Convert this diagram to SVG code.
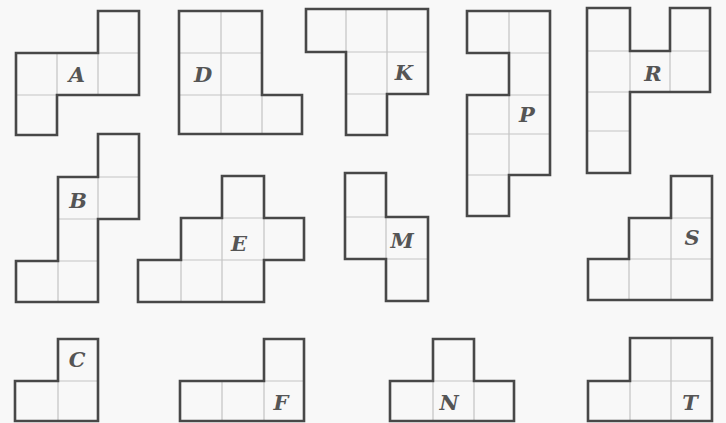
<svg xmlns="http://www.w3.org/2000/svg" width="726" height="423" viewBox="0 0 726 423">
<style>
.o{fill:none;stroke:#484848;stroke-width:2.6;stroke-linejoin:miter}
.i{fill:none;stroke:#c4c4c4;stroke-width:1.2}
.t{font-family:"DejaVu Serif","Liberation Serif",serif;font-style:italic;font-weight:bold;font-size:21px;fill:#555555;text-anchor:middle}
</style>
<rect width="726" height="423" fill="#f8f8f8"/>
<g id="A">
<path class="i" d="M98,53H139M57,53V95M98,53V95M16,95H57"/>
<path class="o" d="M98,11H139V95H57V135H16V53H98Z"/>
<text class="t" x="77" y="82">A</text>
</g>
<g id="D">
<path class="i" d="M221,11V134M262,95V134M179,53H262M179,95H262"/>
<path class="o" d="M179,11H262V95H302V134H179Z"/>
<text class="t" x="203" y="82">D</text>
</g>
<g id="K">
<path class="i" d="M346,9V52M387,9V94M346,52H428M346,94H387"/>
<path class="o" d="M306,9H428V94H387V135H346V52H306Z"/>
<text class="t" x="404" y="80">K</text>
</g>
<g id="P">
<path class="i" d="M509,11V53M509,53H550M509,95H550M509,95V175M467,134H550M467,175H509"/>
<path class="o" d="M467,11H550V175H509V216H467V95H509V53H467Z"/>
<text class="t" x="527" y="122">P</text>
</g>
<g id="R">
<path class="i" d="M587,51H710M630,51V92M670,51V92M587,92H630M587,131H630"/>
<path class="o" d="M587,8H630V51H670V8H710V92H630V173H587Z"/>
<text class="t" x="653" y="81">R</text>
</g>
<g id="B">
<path class="i" d="M98,177H139M98,177V219M58,219H98M58,261H98M58,261V302"/>
<path class="o" d="M98,134H139V219H98V302H16V261H58V177H98Z"/>
<text class="t" x="78" y="208">B</text>
</g>
<g id="E">
<path class="i" d="M222,218H264M222,218V302M264,218V260M181,260H264M181,260V302"/>
<path class="o" d="M222,176H264V218H304V260H264V302H138V260H181V218H222Z"/>
<text class="t" x="239" y="251">E</text>
</g>
<g id="M">
<path class="i" d="M345,217H386M386,217V259M386,259H428"/>
<path class="o" d="M345,173H386V217H428V301H386V259H345Z"/>
<text class="t" x="402" y="248">M</text>
</g>
<g id="S">
<path class="i" d="M671,218H712M671,218V300M629,259H712M629,259V300"/>
<path class="o" d="M671,176H712V300H588V259H629V218H671Z"/>
<text class="t" x="692" y="245">S</text>
</g>
<g id="C">
<path class="i" d="M58,381H98M58,381V421"/>
<path class="o" d="M58,339H98V421H15V381H58Z"/>
<text class="t" x="77" y="367">C</text>
</g>
<g id="F">
<path class="i" d="M264,381H304M222,381V421M264,381V421"/>
<path class="o" d="M264,339H304V421H180V381H264Z"/>
<text class="t" x="281" y="410">F</text>
</g>
<g id="N">
<path class="i" d="M433,381H474M433,381V421M474,381V421"/>
<path class="o" d="M433,339H474V381H514V421H390V381H433Z"/>
<text class="t" x="449" y="410">N</text>
</g>
<g id="T">
<path class="i" d="M671,338V421M630,381H712M630,381V421"/>
<path class="o" d="M630,338H712V421H588V381H630Z"/>
<text class="t" x="690" y="410">T</text>
</g>
</svg>
